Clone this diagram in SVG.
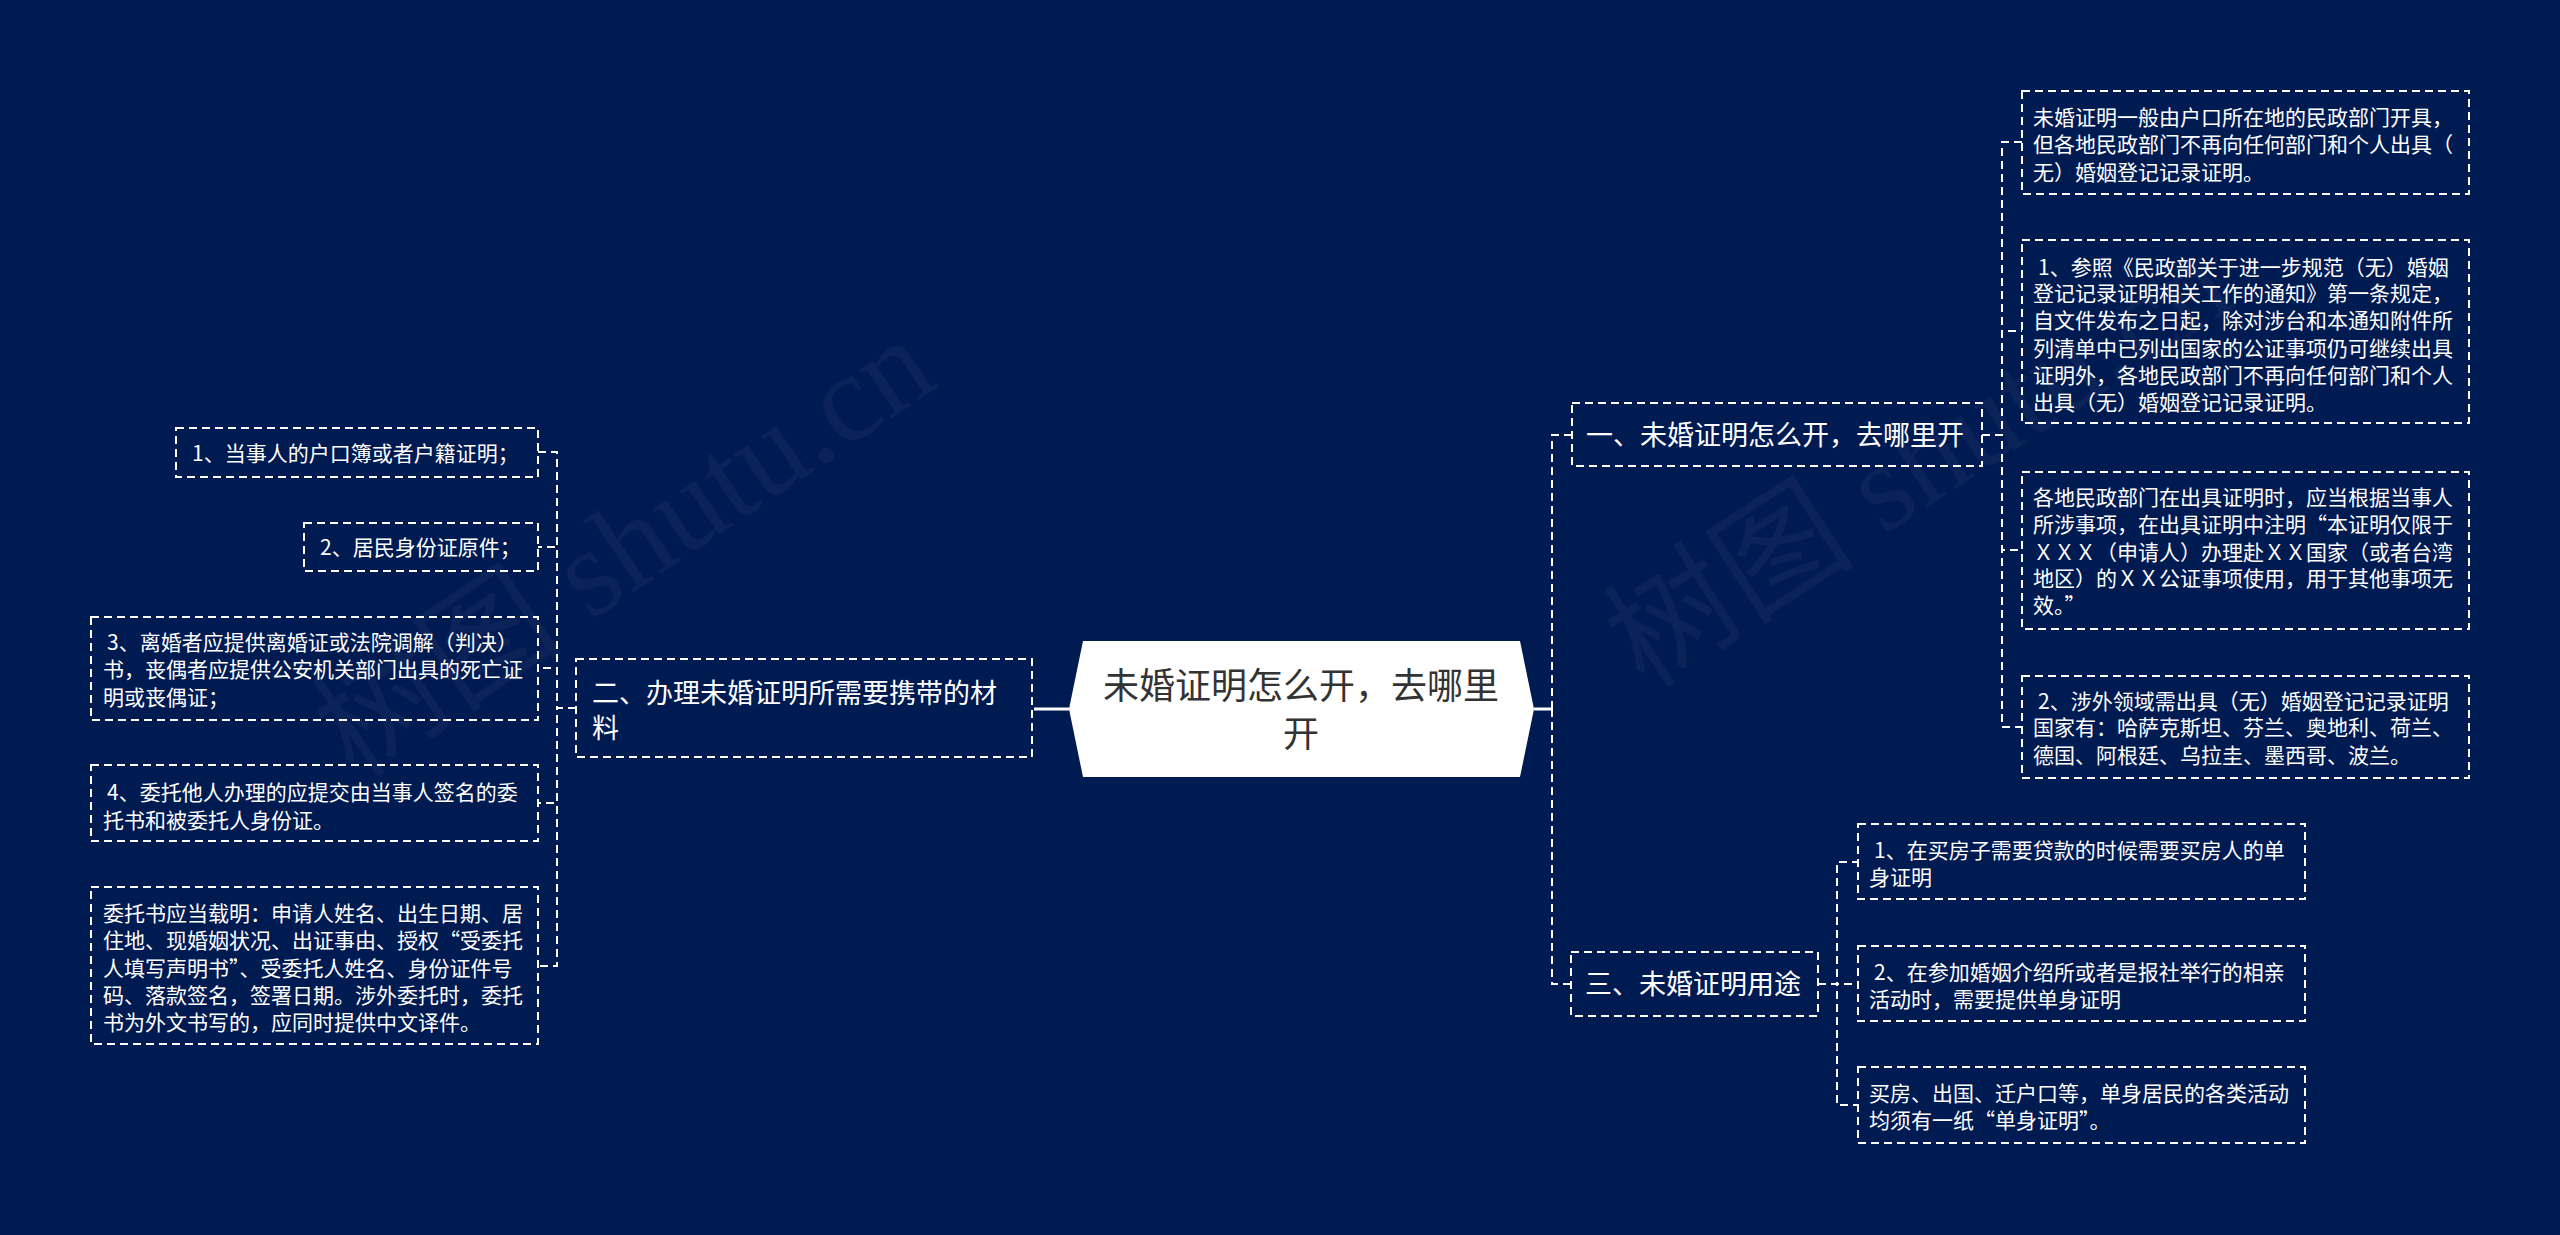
<svg xmlns="http://www.w3.org/2000/svg" width="2560" height="1235" viewBox="0 0 2560 1235">
<style>
.bg{fill:#001a52}
.box{fill:none;stroke:#ffffff;stroke-width:2;stroke-dasharray:8 5}
.link{fill:none;stroke:#ffffff;stroke-width:2;stroke-dasharray:8 5}
.solid{fill:none;stroke:#ffffff;stroke-width:3}
.t{font-family:"Noto Sans CJK SC","Noto Sans",sans-serif;fill:#ffffff}
.leaf{font-size:21px}
.br{font-size:27px}
.ct{font-family:"Noto Sans CJK SC","Noto Sans",sans-serif;fill:#333333;font-size:36px}
.wm{font-family:"Liberation Serif","Noto Sans CJK SC",serif;font-size:126px;fill:#ffffff;fill-opacity:0.045}
</style>
<rect class="bg" x="0" y="0" width="2560" height="1235"/>

<g id="connectors">
  <path class="solid" d="M1069 709 H1034"/>
  <path class="solid" d="M1534 709 H1552"/>
  <path class="link" d="M1552 709 V435 H1572"/>
  <path class="link" d="M1552 709 V984 H1571"/>
  <path class="link" d="M576 708 H557 V452 H538"/>
  <path class="link" d="M576 708 H557 V547 H538"/>
  <path class="link" d="M576 708 H557 V668 H538"/>
  <path class="link" d="M576 708 H557 V803 H538"/>
  <path class="link" d="M576 708 H557 V966 H538"/>
  <path class="link" d="M1982 435 H2002 V142 H2022"/>
  <path class="link" d="M1982 435 H2002 V331 H2022"/>
  <path class="link" d="M1982 435 H2002 V550 H2022"/>
  <path class="link" d="M1982 435 H2002 V727 H2022"/>
  <path class="link" d="M1818 984 H1837 V862 H1858"/>
  <path class="link" d="M1818 984 H1837 V984 H1858"/>
  <path class="link" d="M1818 984 H1837 V1105 H1858"/>
</g>

<g id="center">
  <polygon points="1083,641 1520,641 1534,709 1520,777 1083,777 1069,709" fill="#ffffff"/>
  <text class="ct" x="1301" y="699" text-anchor="middle">未婚证明怎么开，去哪里</text>
  <text class="ct" x="1301" y="747" text-anchor="middle">开</text>
</g>

<g id="branch1">
  <rect class="box" x="1572" y="403" width="410" height="63"/>
  <text class="t br" x="1586" y="445">一、未婚证明怎么开，去哪里开</text>
</g>
<g id="branch2">
  <rect class="box" x="576" y="659" width="456" height="98"/>
  <text class="t br" x="592" y="703">二、办理未婚证明所需要携带的材</text>
  <text class="t br" x="592" y="738">料</text>
</g>
<g id="branch3">
  <rect class="box" x="1571" y="952" width="247" height="64"/>
  <text class="t br" x="1585" y="994">三、未婚证明用途</text>
</g>

<g id="r1">
  <rect class="box" x="2022" y="91" width="447" height="103"/>
  <text class="t leaf" x="2033" y="125">未婚证明一般由户口所在地的民政部门开具，</text>
  <text class="t leaf" x="2033" y="152">但各地民政部门不再向任何部门和个人出具（</text>
  <text class="t leaf" x="2033" y="180">无）婚姻登记记录证明。</text>
</g>
<g id="r2">
  <rect class="box" x="2022" y="240" width="447" height="183"/>
  <text class="t leaf" x="2038" y="275">1、参照《民政部关于进一步规范（无）婚姻</text>
  <text class="t leaf" x="2033" y="301">登记记录证明相关工作的通知》第一条规定，</text>
  <text class="t leaf" x="2033" y="328">自文件发布之日起，除对涉台和本通知附件所</text>
  <text class="t leaf" x="2033" y="356">列清单中已列出国家的公证事项仍可继续出具</text>
  <text class="t leaf" x="2033" y="383">证明外，各地民政部门不再向任何部门和个人</text>
  <text class="t leaf" x="2033" y="410">出具（无）婚姻登记记录证明。</text>
</g>
<g id="r3">
  <rect class="box" x="2022" y="472" width="447" height="157"/>
  <text class="t leaf" x="2033" y="505">各地民政部门在出具证明时，应当根据当事人</text>
  <text class="t leaf" x="2033" y="532">所涉事项，在出具证明中注明“本证明仅限于</text>
  <text class="t leaf" x="2033" y="560">ＸＸＸ（申请人）办理赴ＸＸ国家（或者台湾</text>
  <text class="t leaf" x="2033" y="586">地区）的ＸＸ公证事项使用，用于其他事项无</text>
  <text class="t leaf" x="2033" y="613">效。”</text>
</g>
<g id="r4">
  <rect class="box" x="2022" y="676" width="447" height="102"/>
  <text class="t leaf" x="2038" y="709">2、涉外领域需出具（无）婚姻登记记录证明</text>
  <text class="t leaf" x="2033" y="735">国家有：哈萨克斯坦、芬兰、奥地利、荷兰、</text>
  <text class="t leaf" x="2033" y="763">德国、阿根廷、乌拉圭、墨西哥、波兰。</text>
</g>

<g id="u1">
  <rect class="box" x="1858" y="824" width="447" height="75"/>
  <text class="t leaf" x="1874" y="858">1、在买房子需要贷款的时候需要买房人的单</text>
  <text class="t leaf" x="1869" y="885">身证明</text>
</g>
<g id="u2">
  <rect class="box" x="1858" y="946" width="447" height="75"/>
  <text class="t leaf" x="1874" y="980">2、在参加婚姻介绍所或者是报社举行的相亲</text>
  <text class="t leaf" x="1869" y="1007">活动时，需要提供单身证明</text>
</g>
<g id="u3">
  <rect class="box" x="1858" y="1067" width="447" height="76"/>
  <text class="t leaf" x="1869" y="1101">买房、出国、迁户口等，单身居民的各类活动</text>
  <text class="t leaf" x="1869" y="1128">均须有一纸“单身证明”。</text>
</g>

<g id="m1">
  <rect class="box" x="176" y="428" width="362" height="49"/>
  <text class="t leaf" x="192" y="461">1、当事人的户口簿或者户籍证明；</text>
</g>
<g id="m2">
  <rect class="box" x="304" y="523" width="234" height="48"/>
  <text class="t leaf" x="320" y="555">2、居民身份证原件；</text>
</g>
<g id="m3">
  <rect class="box" x="91" y="617" width="447" height="103"/>
  <text class="t leaf" x="107" y="650">3、离婚者应提供离婚证或法院调解（判决）</text>
  <text class="t leaf" x="103" y="677">书，丧偶者应提供公安机关部门出具的死亡证</text>
  <text class="t leaf" x="103" y="705">明或丧偶证；</text>
</g>
<g id="m4">
  <rect class="box" x="91" y="765" width="447" height="76"/>
  <text class="t leaf" x="107" y="800">4、委托他人办理的应提交由当事人签名的委</text>
  <text class="t leaf" x="103" y="828">托书和被委托人身份证。</text>
</g>
<g id="m5">
  <rect class="box" x="91" y="887" width="447" height="157"/>
  <text class="t leaf" x="103" y="921">委托书应当载明：申请人姓名、出生日期、居</text>
  <text class="t leaf" x="103" y="948">住地、现婚姻状况、出证事由、授权“受委托</text>
  <text class="t leaf" x="103" y="976">人填写声明书”、受委托人姓名、身份证件号</text>
  <text class="t leaf" x="103" y="1003">码、落款签名，签署日期。涉外委托时，委托</text>
  <text class="t leaf" x="103" y="1030">书为外文书写的，应同时提供中文译件。</text>
</g>

<g id="watermarks">
  <text class="wm" transform="translate(355,780) rotate(-34)">树图 shutu.cn</text>
  <text class="wm" transform="translate(1645,690) rotate(-33)">树图 shutu.cn</text>
</g>
</svg>
